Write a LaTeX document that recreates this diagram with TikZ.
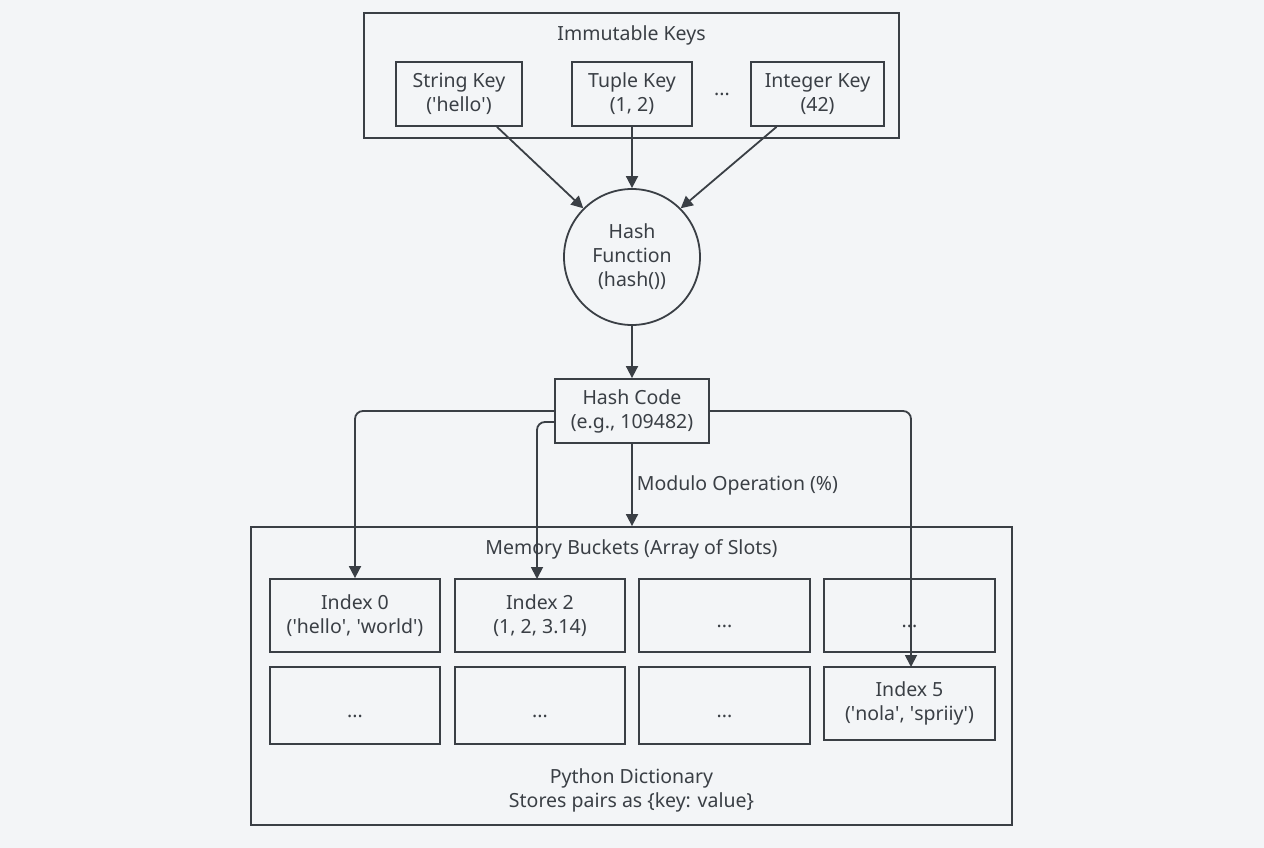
\documentclass[tikz,border=0pt]{standalone}
\usepackage{fontspec}
\setmainfont{Noto Sans}
\usetikzlibrary{arrows.meta}
\definecolor{inkgray}{HTML}{3A3F45}
\definecolor{paper}{HTML}{F3F5F7}
\newcommand{\sq}{\textquotesingle}
\begin{document}
\begin{tikzpicture}[x=1pt, y=-1pt,
 every node/.style={font=\fontsize{19.5}{24}\selectfont, text=inkgray, align=center},
 squarednode/.style={rectangle, draw=inkgray, line width=1.8pt, inner sep=0pt},
 roundnode/.style={circle, draw=inkgray, line width=1.8pt, minimum size=136pt, inner sep=0pt},
 plainnode/.style={inner sep=1pt},
 flow/.style={-{Triangle[length=12pt,width=12pt]}, draw=inkgray, line width=1.8pt, rounded corners=8pt},
 ]
 %Background
 \fill[paper] (0,0) rectangle (1264,848);
 \useasboundingbox (0,0) rectangle (1264,848);

 %Key nodes
 \node[squarednode, minimum width=535pt, minimum height=125pt] (keys_node) at (631.5,75.5) {};
 \node[plainnode] (keys_title) at (631.5,35) {Immutable Keys};
 \node[squarednode, minimum width=126pt, minimum height=64pt] (string_node) at (459,94) {String Key\\(\sq hello\sq)};
 \node[squarednode, minimum width=120pt, minimum height=64pt] (tuple_node) at (632,94) {Tuple Key\\(1, 2)};
 \node[plainnode] (dots_node) at (722,94) {...};
 \node[squarednode, minimum width=133pt, minimum height=64pt] (integer_node) at (817.5,94) {Integer Key\\(42)};

 %Hash nodes
 \node[roundnode] (hash_node) at (632,257) {Hash\\Function\\(hash())};
 \node[squarednode, minimum width=154pt, minimum height=64pt] (code_node) at (632,411) {Hash Code\\(e.g., 109482)};

 %Bucket nodes
 \node[squarednode, minimum width=761pt, minimum height=298pt] (buckets_node) at (631.5,676) {};
 \node[plainnode] (buckets_title) at (631.5,549) {Memory Buckets (Array of Slots)};
 \node[squarednode, minimum width=170pt, minimum height=73pt] (slot_a) at (355,615.5) {Index 0\\(\sq hello\sq, \sq world\sq)};
 \node[squarednode, minimum width=170pt, minimum height=73pt] (slot_b) at (540,615.5) {Index 2\\(1, 2, 3.14)};
 \node[squarednode, minimum width=171pt, minimum height=73pt] (slot_c) at (724.5,615.5) {\\...};
 \node[squarednode, minimum width=171pt, minimum height=73pt] (slot_d) at (909.5,615.5) {\\...};
 \node[squarednode, minimum width=170pt, minimum height=77pt] (slot_e) at (355,705.5) {\\...};
 \node[squarednode, minimum width=170pt, minimum height=77pt] (slot_f) at (540,705.5) {\\...};
 \node[squarednode, minimum width=171pt, minimum height=77pt] (slot_g) at (724.5,705.5) {\\...};
 \node[squarednode, minimum width=171pt, minimum height=73pt] (slot_h) at (909.5,703.5) {Index 5\\(\sq nola\sq, \sq spriiy\sq)};
 \node[plainnode] (dict_node) at (631.5,790) {Python Dictionary\\Stores pairs as \{key: value\}};

 %Lines
 \draw[flow] (string_node.south) ++(38,0) -- (hash_node.north west);
 \draw[flow] (tuple_node.south) -- (hash_node.north);
 \draw[flow] (integer_node.south) ++(-41,0) -- (hash_node.north east);
 \draw[flow] (hash_node.south) -- (code_node.north);
 \draw[flow] (code_node.south) -- node[right, plainnode, xshift=3pt] {Modulo Operation (\%)} (buckets_node.north -| code_node);
 \draw[flow] (code_node.west) -- (355,411) -- (slot_a.north);
 \draw[flow] (code_node.west) ++(0,11) -- (537,422) -- (537,579);
 \draw[flow] (code_node.east) -- (911,411) -- (911,667);
\end{tikzpicture}
\end{document}
